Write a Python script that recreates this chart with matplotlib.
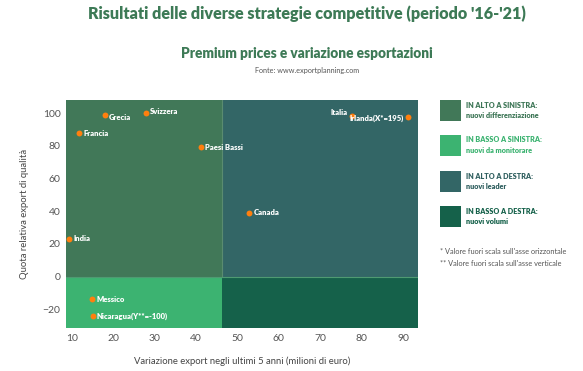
import matplotlib
matplotlib.use("Agg")
import matplotlib.pyplot as plt
from matplotlib.patches import Rectangle

plt.rcParams["font.family"] = ["Lato", "DejaVu Sans"]

# data
countries = ["Grecia", "Svizzera", "Francia", "Paesi Bassi", "India",
             "Messico", "Nicaragua(Y**=-100)", "Canada", "Italia", "Irlanda(X*=195)"]
x_vals = [18.0, 27.9, 11.8, 41.3, 9.4, 14.9, 15.1, 52.9, 77.6, 91.2]
y_vals = [98.8, 100.0, 87.6, 79.2, 23.3, -13.8, -24.2, 39.0, 98.6, 97.8]

x_split = 46.3
y_split = 0
x_lim = (8.6, 93.6)
y_lim = (-31.4, 108.1)

quad_names = ["IN ALTO A SINISTRA:", "IN BASSO A SINISTRA:", "IN ALTO A DESTRA:", "IN BASSO A DESTRA:"]
quad_desc = ["nuovi differenziazione", "nuovi da monitorare", "nuovi leader", "nuovi volumi"]
quad_colors = ["#417858", "#3cb371", "#336666", "#15614a"]
label_colors = ["#3d7656", "#3cb371", "#2f5f5f", "#15614a"]

# label offsets in pixels (dx, dy, ha)
offsets = {
    "Grecia": (4, -2, "left"),
    "Svizzera": (4, 2, "left"),
    "Italia": (-4, 3, "right"),
    "Irlanda(X*=195)": (-4, -2, "right"),
}

fig = plt.figure(figsize=(5.83, 3.71), dpi=100)
ax = fig.add_axes([0.1132, 0.1159, 0.6038, 0.6146])

x0, x1 = x_lim
y0, y1 = y_lim
quads = [
    (x0, y_split, x_split - x0, y1 - y_split),
    (x0, y0, x_split - x0, y_split - y0),
    (x_split, y_split, x1 - x_split, y1 - y_split),
    (x_split, y0, x1 - x_split, y_split - y0),
]
for (qx, qy, qw, qh), c in zip(quads, quad_colors):
    ax.add_patch(Rectangle((qx, qy), qw, qh, facecolor=c, edgecolor="none", zorder=0))
ax.plot([x_split, x_split], [y_split, y1], color="#5a8c70", lw=0.8, zorder=1)
ax.plot([x0, x1], [y_split, y_split], color="#4f9a72", lw=0.8, zorder=1)

ax.scatter(x_vals, y_vals, s=18, color="#ff7f0e", zorder=3, linewidths=0)
for name, xv, yv in zip(countries, x_vals, y_vals):
    dx, dy, ha = offsets.get(name, (4, 0, "left"))
    ax.annotate(name, (xv, yv), xytext=(dx, dy), textcoords="offset pixels",
                ha=ha, va="center", fontsize=5.5, fontweight="heavy", color="white", zorder=4)

ax.set_xlim(x_lim)
ax.set_ylim(y_lim)
ax.set_xticks([10, 20, 30, 40, 50, 60, 70, 80, 90])
ax.set_yticks([-20, 0, 20, 40, 60, 80, 100])
ax.tick_params(length=0, labelsize=7.5, labelcolor="#555555", pad=4)
for s in ax.spines.values():
    s.set_visible(False)
ax.set_xlabel("Variazione export negli ultimi 5 anni (milioni di euro)", fontsize=6.8,
              color="#444444", labelpad=10)
ax.set_ylabel("Quota relativa export di qualità", fontsize=6.8, color="#444444", labelpad=10)

title_color = "#3d7a56"
fig.text(307 / 583, 1 - 14 / 371, "Risultati delle diverse strategie competitive (periodo '16-'21)",
         ha="center", va="center", fontsize=11.6, fontweight="heavy", color=title_color)
fig.text(307 / 583, 1 - 53 / 371, "Premium prices e variazione esportazioni",
         ha="center", va="center", fontsize=9.8, fontweight="heavy", color=title_color)
fig.text(307 / 583, 1 - 70 / 371, "Fonte: www.exportplanning.com",
         ha="center", va="center", fontsize=5.2, color="#555555")

# legend on the right
sq_tops = [100, 135, 171, 206]
for top, c, lc, n, d in zip(sq_tops, quad_colors, label_colors, quad_names, quad_desc):
    fig.patches.append(Rectangle((440 / 583, 1 - (top + 21) / 371), 21 / 583, 21 / 371,
                                 transform=fig.transFigure, facecolor=c, edgecolor="none"))
    fig.text(466 / 583, 1 - (top + 5) / 371, n, ha="left", va="center",
             fontsize=5.2, fontweight="heavy", color=lc)
    fig.text(466 / 583, 1 - (top + 15.7) / 371, d, ha="left", va="center",
             fontsize=5.2, fontweight="heavy", color=lc)

fig.text(440 / 583, 1 - 251.7 / 371, "* Valore fuori scala sull'asse orizzontale",
         ha="left", va="center", fontsize=5.3, color="#555555")
fig.text(440 / 583, 1 - 264 / 371, "** Valore fuori scala sull'asse verticale",
         ha="left", va="center", fontsize=5.3, color="#555555")

fig.savefig("out.png", dpi=100)
